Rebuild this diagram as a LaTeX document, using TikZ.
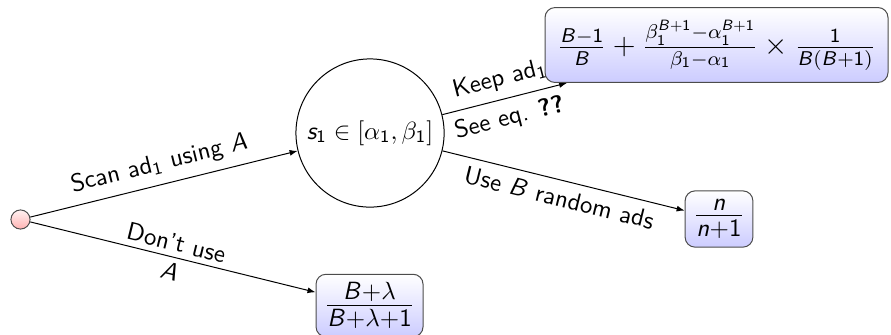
\documentclass[tikz,border=0pt]{standalone}
\usetikzlibrary{arrows.meta,backgrounds}
% sans letters and digits in math
\DeclareSymbolFont{sfitalic}{OT1}{cmss}{m}{sl}
\DeclareSymbolFont{sfupright}{OT1}{cmss}{m}{n}
\DeclareMathSymbol{A}{\mathalpha}{sfitalic}{`A}
\DeclareMathSymbol{B}{\mathalpha}{sfitalic}{`B}
\DeclareMathSymbol{n}{\mathalpha}{sfitalic}{`n}
\DeclareMathSymbol{s}{\mathalpha}{sfitalic}{`s}
\DeclareMathSymbol{1}{\mathalpha}{sfupright}{`1}
\DeclareMathSymbol{+}{\mathbin}{sfupright}{`+}
\begin{document}
\begin{tikzpicture}[
  every node/.style={font=\sffamily},
  state/.style={circle, draw, fill=white, minimum size=2.09cm, inner sep=0pt},
  start/.style={circle, draw=black!70, top color=red!5, bottom color=red!30, minimum size=0.27cm, inner sep=0pt},
  result/.style={rectangle, rounded corners, draw=black!70, top color=white, bottom color=blue!20, align=center, font=\Large},
  arrow/.style={-{Latex[length=3.2pt]}}
]
\useasboundingbox (0,0) rectangle (12.567,-4.711);
\node[start] (start) at (0.289,-3.096) {};
\node[state] (scan) at (5.219,-1.876) {$s_1\in[\alpha_1,\beta_1]$};
\node[result, font=\large, inner sep=5pt] (keep) at (10.106,-0.635) {$\frac{B-1}{B}+\frac{\beta_1^{B+1}-\alpha_1^{B+1}}{\beta_1-\alpha_1}\times\frac{1}{B(B+1)}$};
\node[result] (rand) at (10.141,-3.089) {$\frac{n}{n+1}$};
\node[result] (skip) at (5.212,-4.309) {$\frac{B+\lambda}{B+\lambda+1}$};
\begin{scope}[on background layer]
\draw[arrow] (start) -- node[above, sloped]{Scan ad$_1$ using $A$} (scan);
\draw[arrow] (start) -- node[sloped, align=center]{Don't use\\$A$} (skip);
\draw[arrow] (scan) -- node[above, sloped]{Keep ad$_1$} node[below, sloped]{See eq. \textbf{??}} (keep);
\draw[arrow] (scan) -- node[below, sloped]{Use $B$ random ads} (rand);
\end{scope}
\end{tikzpicture}
\end{document}
